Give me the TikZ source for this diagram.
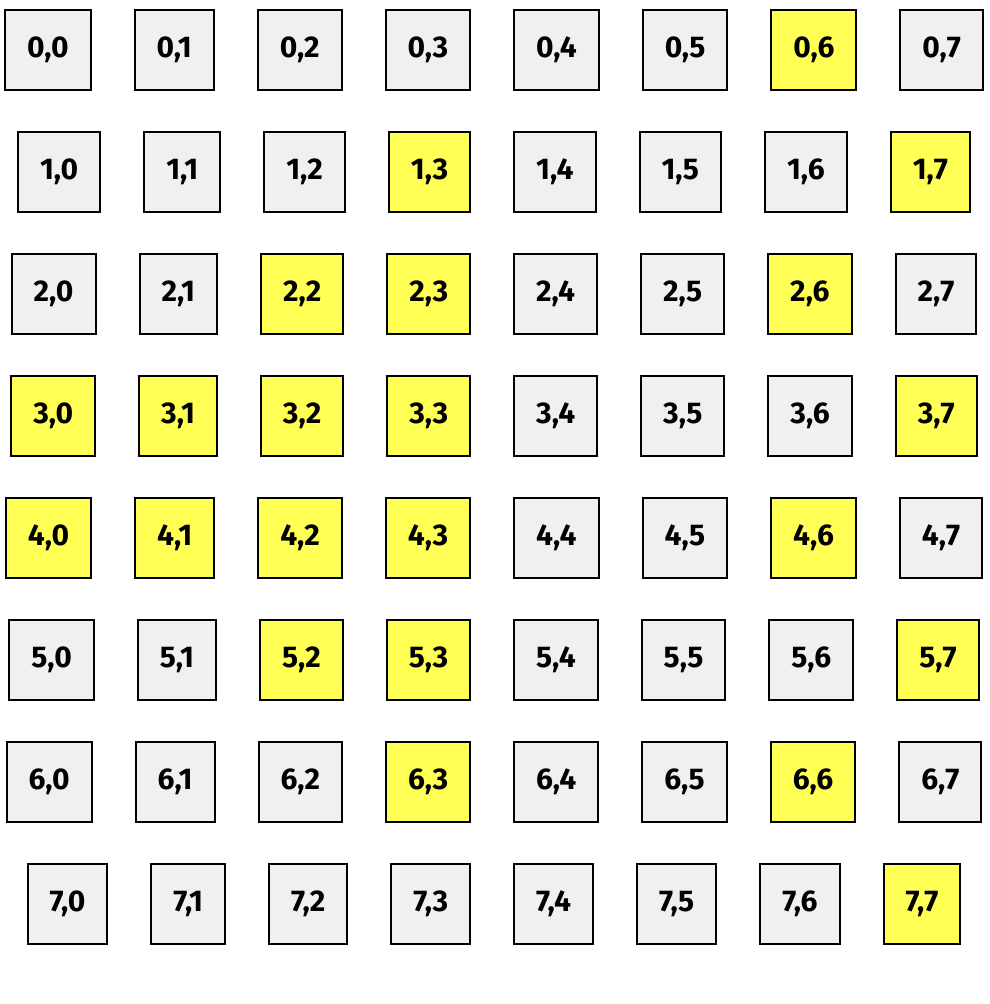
\documentclass[tikz,border=0pt]{standalone}
\usepackage{fontspec}
\setmainfont{Fira Sans}[Numbers=Proportional]
\usetikzlibrary{matrix}

\definecolor{cellgray}{HTML}{F0F0F0}
\definecolor{hityellow}{HTML}{FFFF55}

\tikzset{
  cell/.style={draw, line width=2pt, fill=cellgray, minimum height=80pt,
    inner xsep=22pt, font=\bfseries\fontsize{30}{30}\selectfont},
  hit/.style={fill=hityellow},
  cellrow/.style={matrix of nodes, column sep=42pt, inner sep=0pt, nodes={cell}}
}

\begin{document}
\begin{tikzpicture}[x=1pt, y=-1pt]
    \useasboundingbox (0,0) rectangle (990,1004);

    % Rows of cells, each centred on its own
    \matrix[cellrow] (row0) at (494,50)  {0,0 & 0,1 & 0,2 & 0,3 & 0,4 & 0,5 & |[hit]| 0,6 & 0,7 \\};
    \matrix[cellrow] (row1) at (494,172) {1,0 & 1,1 & 1,2 & |[hit]| 1,3 & 1,4 & 1,5 & 1,6 & |[hit]| 1,7 \\};
    \matrix[cellrow] (row2) at (494,294) {2,0 & 2,1 & |[hit]| 2,2 & |[hit]| 2,3 & 2,4 & 2,5 & |[hit]| 2,6 & 2,7 \\};
    \matrix[cellrow] (row3) at (494,416) {|[hit]| 3,0 & |[hit]| 3,1 & |[hit]| 3,2 & |[hit]| 3,3 & 3,4 & 3,5 & 3,6 & |[hit]| 3,7 \\};
    \matrix[cellrow] (row4) at (494,538) {|[hit]| 4,0 & |[hit]| 4,1 & |[hit]| 4,2 & |[hit]| 4,3 & 4,4 & 4,5 & |[hit]| 4,6 & 4,7 \\};
    \matrix[cellrow] (row5) at (494,660) {5,0 & 5,1 & |[hit]| 5,2 & |[hit]| 5,3 & 5,4 & 5,5 & 5,6 & |[hit]| 5,7 \\};
    \matrix[cellrow] (row6) at (494,782) {6,0 & 6,1 & 6,2 & |[hit]| 6,3 & 6,4 & 6,5 & |[hit]| 6,6 & 6,7 \\};
    \matrix[cellrow] (row7) at (494,904) {7,0 & 7,1 & 7,2 & 7,3 & 7,4 & 7,5 & 7,6 & |[hit]| 7,7 \\};
\end{tikzpicture}
\end{document}
